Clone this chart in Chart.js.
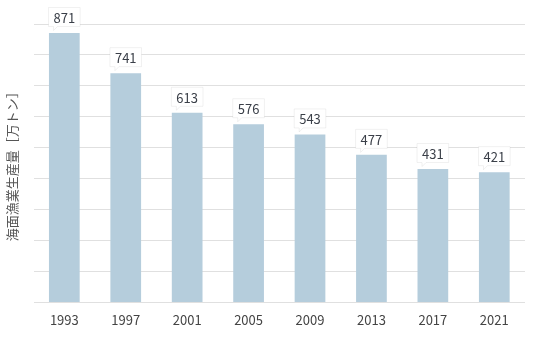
<!DOCTYPE html>
<html>
<head>
<meta charset="utf-8">
<script src="https://cdn.jsdelivr.net/npm/chart.js@4.4.1/dist/chart.umd.min.js"></script>
<style>
  html, body { margin: 0; padding: 0; background: #fff; }
  #wrap { width: 536px; height: 353px; }
</style>
</head>
<body>
<div id="wrap"><canvas id="myChart"></canvas></div>
<script>
const years = ['1993', '1997', '2001', '2005', '2009', '2013', '2017', '2021'];
const production = [871, 741, 613, 576, 543, 477, 431, 421];
const yTitle = '海面漁業生産量［万トン］';

const fontFamily = '"Noto Sans CJK JP", "Noto Sans", sans-serif';

// value labels in small white callout boxes above each bar
const calloutLabels = {
    id: 'calloutLabels',
    afterDatasetsDraw(chart) {
        const ctx = chart.ctx;
        const meta = chart.getDatasetMeta(0);
        ctx.save();
        ctx.font = '13px ' + fontFamily;
        ctx.textAlign = 'center';
        ctx.textBaseline = 'middle';
        meta.data.forEach((bar, i) => {
            const text = String(production[i]);
            const w = ctx.measureText(text).width + 10;
            const h = 19;
            const cx = bar.x;
            const cy = bar.y - 16;
            const x0 = cx - w / 2, y0 = cy - h / 2;
            ctx.fillStyle = '#fff';
            ctx.strokeStyle = 'rgba(0,0,0,0.06)';
            ctx.lineWidth = 1;
            ctx.beginPath();
            ctx.moveTo(x0, y0);
            ctx.lineTo(x0 + w, y0);
            ctx.lineTo(x0 + w, y0 + h);
            ctx.lineTo(x0 + 9, y0 + h);
            ctx.lineTo(x0 + 5, y0 + h + 4);
            ctx.lineTo(x0 + 5, y0 + h);
            ctx.lineTo(x0, y0 + h);
            ctx.closePath();
            ctx.fill();
            ctx.stroke();
            ctx.fillStyle = '#3a3f48';
            ctx.fillText(text, cx, cy + 1);
        });
        ctx.restore();
    }
};

new Chart(document.getElementById('myChart').getContext('2d'), {
    type: 'bar',
    data: {
        labels: years,
        datasets: [{
            label: yTitle,
            data: production,
            backgroundColor: '#b5cddc',
            categoryPercentage: 1.0,
            barPercentage: 0.5
        }]
    },
    options: {
        responsive: true,
        maintainAspectRatio: false,
        animation: false,
        layout: { padding: { top: 24, right: 11, bottom: 23, left: 4 } },
        plugins: {
            legend: { display: false },
            tooltip: { enabled: false }
        },
        scales: {
            x: {
                grid: { display: false },
                border: { display: false },
                ticks: {
                    color: '#444',
                    padding: 2,
                    font: { family: fontFamily, size: 13 }
                }
            },
            y: {
                min: 0,
                max: 900,
                ticks: { display: false, stepSize: 100 },
                grid: { color: '#e0e0e0', drawTicks: false },
                border: { display: false },
                title: {
                    display: true,
                    text: yTitle,
                    color: '#555',
                    padding: { top: 0, bottom: 14 },
                    font: { family: fontFamily, size: 13 }
                }
            }
        }
    },
    plugins: [calloutLabels]
});
</script>
</body>
</html>
